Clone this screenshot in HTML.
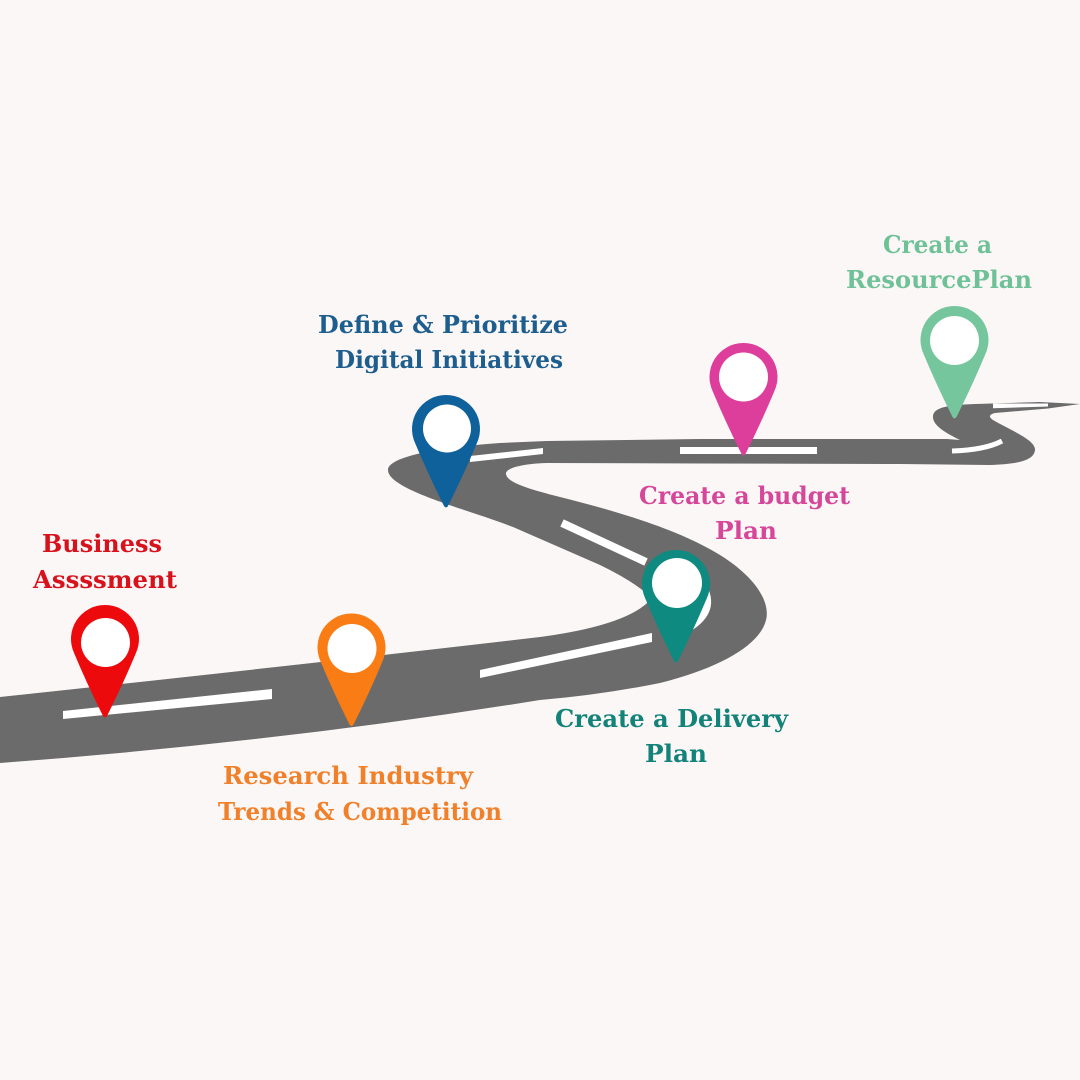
<!DOCTYPE html>
<html>
<head>
<meta charset="utf-8">
<style>
  html,body{margin:0;padding:0;background:#fcf7f7;}
  svg{display:block;}
  text{font-family:"DejaVu Serif","Liberation Serif",serif;font-weight:bold;font-size:24px;}
</style>
</head>
<body>
<svg width="1080" height="1080" viewBox="0 0 1080 1080" xmlns="http://www.w3.org/2000/svg">
  <rect x="0" y="0" width="1080" height="1080" fill="#fcf7f7"/>

  <!-- Road -->
  <path fill="#6b6b6b" d="
    M 0 697
    Q 300 665 540 637
    Q 630 625 652 598
    Q 635 582 600 565
    L 513 527
    C 470 510 388 490 388 470
    C 388 458 430 448 500 443
    L 547 441
    L 700 439
    L 947 439
    L 960 440
    C 948 434 932 426 933 416
    C 934 408 945 405 975 404
    L 1040 402
    L 1080 404
    L 1048 408.5
    L 995 413
    Q 986 415 993 420
    C 1010 430 1036 440 1035 450
    C 1034 460 1020 464 990 465
    L 900 464
    L 700 463.5
    L 547 463
    C 515 464 505 470 506 474
    C 507 482 525 488 560 497
    C 620 512 680 530 720 555
    C 760 580 770 605 766 620
    C 760 645 720 668 660 683
    Q 600 695 540 700
    Q 280 742 0 763
    Z"/>

  <!-- Lane markings -->
  <g fill="#ffffff">
    <polygon points="63,711 272,689 272,699 63,719"/>
    <polygon points="480,670 652,633 652,642 480,678"/>
    <polygon points="470,456 543,448 543,454 470,462"/>
    <polygon points="680,447 817,447 817,454 680,454"/>
    <polygon points="993,403.5 1048,403.5 1048,406.5 993,408.3"/>
  </g>
  <g fill="none" stroke="#ffffff">
    <line x1="562" y1="523" x2="646" y2="562" stroke-width="8"/>
    <path d="M 688 628 Q 718 610 701 584" stroke-width="8"/>
    <path d="M 952 451 Q 985 450 1002 441" stroke-width="5"/>
  </g>

  <!-- Pins -->
  <defs>
    <path id="pin" d="M -30.73 14.54 A 34 34 0 1 1 30.73 14.54 Q 18 45 2 77 Q 0 80 -2 77 Q -18 45 -30.73 14.54 Z"/>
  </defs>

  <use href="#pin" x="105" y="639" fill="#ec0a0c"/>
  <circle cx="105.5" cy="642.5" r="24.5" fill="#ffffff"/>

  <use href="#pin" x="351.5" y="647.5" fill="#f97d14"/>
  <circle cx="352" cy="648.5" r="24.5" fill="#ffffff"/>

  <use href="#pin" x="446" y="429" fill="#0f619b"/>
  <circle cx="447" cy="428.5" r="24" fill="#ffffff"/>

  <use href="#pin" x="676" y="584" fill="#0e8a80"/>
  <circle cx="677" cy="583" r="25" fill="#ffffff"/>

  <use href="#pin" x="743.5" y="377" fill="#de3e9b"/>
  <circle cx="743.5" cy="377" r="24.5" fill="#ffffff"/>

  <use href="#pin" x="954.5" y="340" fill="#76c69d"/>
  <circle cx="954.5" cy="340.5" r="24.5" fill="#ffffff"/>

  <!-- Labels -->
  <g fill="#d8121c">
    <text x="42" y="552" textLength="120" lengthAdjust="spacingAndGlyphs">Business</text>
    <text x="33" y="588" textLength="144" lengthAdjust="spacingAndGlyphs">Assssment</text>
  </g>
  <g fill="#f0802a">
    <text x="223" y="784" textLength="250" lengthAdjust="spacingAndGlyphs">Research Industry</text>
    <text x="218" y="820" textLength="284" lengthAdjust="spacingAndGlyphs">Trends &amp; Competition</text>
  </g>
  <g fill="#1d5e8e">
    <text x="318" y="333" textLength="250" lengthAdjust="spacingAndGlyphs">Define &amp; Prioritize</text>
    <text x="335" y="368" textLength="228" lengthAdjust="spacingAndGlyphs">Digital Initiatives</text>
  </g>
  <g fill="#d6479a">
    <text x="639" y="504" textLength="211" lengthAdjust="spacingAndGlyphs">Create a budget</text>
    <text x="715" y="539" textLength="62" lengthAdjust="spacingAndGlyphs">Plan</text>
  </g>
  <g fill="#13837a">
    <text x="555" y="727" textLength="233" lengthAdjust="spacingAndGlyphs">Create a Delivery</text>
    <text x="645" y="762" textLength="62" lengthAdjust="spacingAndGlyphs">Plan</text>
  </g>
  <g fill="#6fc198">
    <text x="883" y="253" textLength="109" lengthAdjust="spacingAndGlyphs">Create a</text>
    <text x="846" y="288" textLength="186" lengthAdjust="spacingAndGlyphs">ResourcePlan</text>
  </g>
</svg>
</body>
</html>
